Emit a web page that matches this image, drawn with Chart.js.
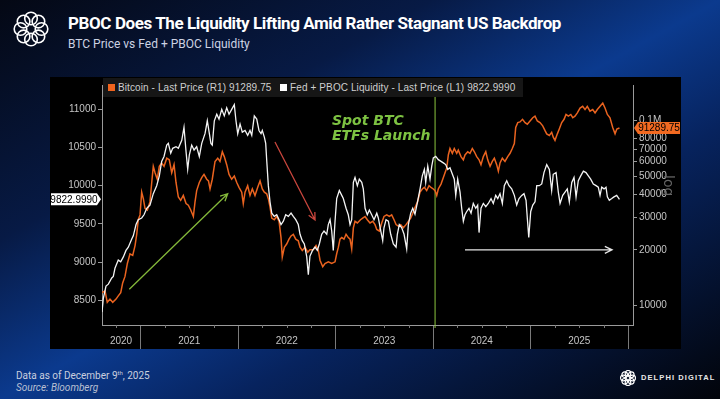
<!DOCTYPE html>
<html>
<head>
<meta charset="utf-8">
<script src="https://cdn.jsdelivr.net/npm/chart.js@4.4.1/dist/chart.umd.min.js"></script>
<style>
  html, body { margin: 0; padding: 0; }
  body {
    width: 720px; height: 399px; overflow: hidden; position: relative;
    background: linear-gradient(to bottom right, #040814 0%, #071a45 30%, #0b3a8e 50%, #07235e 66%, #02040a 100%);
    font-family: Roboto, "Liberation Sans", sans-serif;
  }
  .abs { position: absolute; white-space: nowrap; }
  #title { left: 68px; top: 13px; font-size: 17px; font-weight: 700; color: #fff; letter-spacing: -0.4px; }
  #subtitle { left: 68px; top: 37px; font-size: 12px; color: #cdd3e3; }
  #box { left: 50px; top: 77px; width: 631px; height: 272px; background: #000; }
  #legend { left: 53px; top: 1px; width: 420px; height: 19px; background: #161616; color: #cfcfcf;
    font: 10px "Liberation Sans", sans-serif; line-height: 19px; padding-left: 5px; box-sizing: border-box; letter-spacing: 0.1px; }
  #legend i { display: inline-block; width: 7px; height: 7px; margin-right: 3px; vertical-align: 0px; }
  #etf { left: 282px; top: 36px; color: #7dc242; font: italic bold 14px "DejaVu Sans", sans-serif; line-height: 15px; }
  #logtxt { left: 611px; top: 98px; color: #666; font: 14px "DejaVu Sans", sans-serif; writing-mode: vertical-rl; }
  #foot1 { left: 16px; top: 369px; font-size: 10px; color: #c9cfdf; }
  #foot1 sup { font-size: 6px; }
  #foot2 { left: 16px; top: 382px; font-size: 10px; color: #b9c0d3; font-style: italic; }
  #brand { left: 641px; top: 373px; font: bold 7.5px "Liberation Sans", sans-serif; letter-spacing: 1.1px; color: #e8e8e8; }
</style>
</head>
<body>
<svg class="abs" style="left:13px;top:11px" width="36" height="36" viewBox="0 0 36 36" id="logo"></svg>
<div class="abs" id="title">PBOC Does The Liquidity Lifting Amid Rather Stagnant US Backdrop</div>
<div class="abs" id="subtitle">BTC Price vs Fed + PBOC Liquidity</div>

<div class="abs" id="box">
  <canvas id="chart" width="631" height="272"></canvas>
  <div class="abs" id="legend"></div>
  <div class="abs" id="etf">Spot BTC<br>ETFs Launch</div>
  <div class="abs" id="logtxt">log</div>
</div>

<div class="abs" id="foot1">Data as of December 9<sup>th</sup>, 2025</div>
<div class="abs" id="foot2">Source: Bloomberg</div>
<svg class="abs" style="left:620px;top:370px" width="16" height="16" viewBox="0 0 36 36" id="logo2"></svg>
<div class="abs" id="brand">DELPHI DIGITAL</div>

<script>
// Fed + PBOC liquidity (left axis), decimal years
const liqDates = [
  2020.605, 2020.618, 2020.646, 2020.670, 2020.705, 2020.721, 2020.738, 2020.772, 2020.797, 2020.824,
  2020.851, 2020.875, 2020.910, 2020.926, 2020.954, 2020.977, 2021.012, 2021.036, 2021.064, 2021.097,
  2021.131, 2021.166, 2021.193, 2021.217, 2021.241, 2021.269, 2021.285, 2021.310, 2021.330, 2021.364,
  2021.388, 2021.423, 2021.446, 2021.467, 2021.484, 2021.501, 2021.525, 2021.549, 2021.576, 2021.603,
  2021.628, 2021.662, 2021.685, 2021.706, 2021.722, 2021.736, 2021.757, 2021.782, 2021.805, 2021.833,
  2021.859, 2021.884, 2021.908, 2021.935, 2021.962, 2021.979, 2021.997, 2022.021, 2022.044, 2022.072,
  2022.099, 2022.123, 2022.141, 2022.167, 2022.192, 2022.215, 2022.236, 2022.249, 2022.270, 2022.284,
  2022.294, 2022.311, 2022.328, 2022.346, 2022.372, 2022.397, 2022.421, 2022.441, 2022.465, 2022.489,
  2022.516, 2022.544, 2022.567, 2022.592, 2022.618, 2022.636, 2022.659, 2022.680, 2022.705, 2022.721,
  2022.738, 2022.764, 2022.790, 2022.813, 2022.834, 2022.858, 2022.882, 2022.910, 2022.926, 2022.944,
  2022.961, 2022.977, 2022.995, 2023.012, 2023.039, 2023.064, 2023.080, 2023.108, 2023.131, 2023.149,
  2023.166, 2023.183, 2023.200, 2023.224, 2023.244, 2023.269, 2023.285, 2023.303, 2023.326, 2023.347,
  2023.371, 2023.395, 2023.423, 2023.439, 2023.464, 2023.484, 2023.497, 2023.518, 2023.542, 2023.566,
  2023.593, 2023.621, 2023.634, 2023.654, 2023.679, 2023.703, 2023.730, 2023.747, 2023.771, 2023.792,
  2023.815, 2023.841, 2023.867, 2023.890, 2023.911, 2023.925, 2023.946, 2023.969, 2023.987, 2024.003,
  2024.028, 2024.054, 2024.082, 2024.106, 2024.130, 2024.151, 2024.174, 2024.192, 2024.218, 2024.233,
  2024.253, 2024.277, 2024.294, 2024.311, 2024.328, 2024.346, 2024.369, 2024.390, 2024.413, 2024.438,
  2024.458, 2024.472, 2024.492, 2024.516, 2024.541, 2024.567, 2024.595, 2024.618, 2024.643, 2024.664,
  2024.687, 2024.711, 2024.731, 2024.756, 2024.779, 2024.807, 2024.834, 2024.858, 2024.882, 2024.910,
  2024.933, 2024.954, 2024.967, 2024.982, 2025.002, 2025.023, 2025.046, 2025.064, 2025.090, 2025.115,
  2025.138, 2025.166, 2025.193, 2025.217, 2025.233, 2025.262, 2025.285, 2025.303, 2025.330, 2025.354,
  2025.377, 2025.398, 2025.423, 2025.446, 2025.467, 2025.490, 2025.515, 2025.542, 2025.569, 2025.593,
  2025.617, 2025.644, 2025.672, 2025.695, 2025.713, 2025.730, 2025.754, 2025.774, 2025.788, 2025.808,
  2025.833, 2025.856, 2025.884, 2025.912
];
const liqValues = [
  8347, 8522, 8687, 8712, 8793, 8814, 8920, 9027, 9005, 9069,
  9154, 9196, 9302, 9345, 9492, 9556, 9578, 9620, 9705, 9747,
  9896, 10001, 10129, 10319, 10383, 10532, 10554, 10426, 10490, 10510,
  10490, 10595, 10765, 10447, 10215, 10405, 10532, 10468, 10510, 10383,
  10554, 10685, 10850, 10681, 10554, 10532, 10850, 10935, 10872, 10999,
  10914, 11019, 10935, 10999, 11062, 10850, 10681, 10808, 10701, 10723,
  10659, 10723, 10659, 10914, 10872, 10723, 10681, 10723, 10637, 10554,
  10341, 10001, 9790, 9641, 9599, 9620, 9556, 9492, 9536, 9620,
  9599, 9641, 9599, 9556, 9492, 9365, 9281, 9238, 9069, 8836,
  9080, 9154, 9196, 9154, 9238, 9365, 9408, 9365, 9492, 9556,
  9408, 9154, 9536, 9832, 9938, 9874, 9832, 9705, 9620, 9492,
  9556, 10044, 10108, 10001, 10086, 10044, 9959, 9705, 9620, 9683,
  9620, 9556, 9641, 9578, 9408, 9281, 9450, 9556, 9536, 9365,
  9238, 9196, 9365, 9492, 9450, 9365, 9174, 9492, 9641, 9705,
  9628, 9790, 9959, 10129, 10214, 10044, 10256, 10086, 10256, 10363,
  10383, 10341, 10319, 10299, 10277, 10214, 10235, 10172, 10086, 9874,
  10086, 9917, 9705, 9536, 9620, 9663, 9705, 9641, 9768, 9705,
  9747, 9387, 9705, 9768, 9726, 9768, 9832, 9768, 9874, 9832,
  9896, 9768, 10001, 10065, 10001, 9959, 9874, 9747, 9832, 9874,
  9896, 9810, 9578, 9323, 9663, 9747, 9790, 10001, 10001, 10023,
  10172, 10277, 10214, 9938, 10150, 10172, 9917, 9768, 9874, 9917,
  9959, 9790, 10044, 10108, 9854, 10065, 10129, 10192, 10172, 10129,
  10086, 10023, 10001, 9981, 9874, 9981, 9959, 9981, 9854, 9810,
  9832, 9854, 9874, 9822.999
];

// Bitcoin last price (right axis, log)
const btcDates = [
  2020.605, 2020.636, 2020.659, 2020.687, 2020.715, 2020.749, 2020.772, 2020.797, 2020.817, 2020.841,
  2020.865, 2020.892, 2020.920, 2020.944, 2020.961, 2020.977, 2020.995, 2021.012, 2021.029, 2021.046,
  2021.070, 2021.097, 2021.115, 2021.131, 2021.149, 2021.172, 2021.193, 2021.217, 2021.241, 2021.269,
  2021.295, 2021.320, 2021.344, 2021.364, 2021.388, 2021.412, 2021.439, 2021.467, 2021.490, 2021.515,
  2021.542, 2021.559, 2021.576, 2021.603, 2021.628, 2021.651, 2021.679, 2021.697, 2021.713, 2021.736,
  2021.764, 2021.792, 2021.815, 2021.839, 2021.859, 2021.884, 2021.908, 2021.935, 2021.962, 2021.987,
  2022.010, 2022.038, 2022.054, 2022.072, 2022.099, 2022.123, 2022.147, 2022.174, 2022.202, 2022.226,
  2022.249, 2022.270, 2022.294, 2022.311, 2022.328, 2022.346, 2022.372, 2022.397, 2022.421, 2022.441,
  2022.454, 2022.475, 2022.499, 2022.523, 2022.544, 2022.567, 2022.592, 2022.618, 2022.636, 2022.659,
  2022.687, 2022.715, 2022.738, 2022.772, 2022.800, 2022.824, 2022.841, 2022.869, 2022.892, 2022.926,
  2022.961, 2022.995, 2023.012, 2023.029, 2023.046, 2023.064, 2023.087, 2023.108, 2023.131, 2023.149,
  2023.166, 2023.183, 2023.200, 2023.224, 2023.256, 2023.279, 2023.303, 2023.326, 2023.354, 2023.382,
  2023.405, 2023.423, 2023.449, 2023.474, 2023.497, 2023.525, 2023.552, 2023.576, 2023.600, 2023.621,
  2023.644, 2023.669, 2023.695, 2023.723, 2023.747, 2023.771, 2023.792, 2023.815, 2023.841, 2023.867,
  2023.890, 2023.911, 2023.935, 2023.959, 2023.979, 2024.003, 2024.021, 2024.038, 2024.054, 2024.082,
  2024.106, 2024.123, 2024.141, 2024.157, 2024.174, 2024.198, 2024.218, 2024.243, 2024.259, 2024.287,
  2024.311, 2024.328, 2024.356, 2024.379, 2024.403, 2024.424, 2024.448, 2024.472, 2024.492, 2024.516,
  2024.541, 2024.561, 2024.585, 2024.608, 2024.629, 2024.653, 2024.670, 2024.687, 2024.711, 2024.738,
  2024.766, 2024.790, 2024.813, 2024.834, 2024.848, 2024.869, 2024.892, 2024.918, 2024.944, 2024.967,
  2024.995, 2025.023, 2025.046, 2025.070, 2025.097, 2025.125, 2025.149, 2025.166, 2025.193, 2025.217,
  2025.233, 2025.251, 2025.275, 2025.295, 2025.320, 2025.344, 2025.364, 2025.388, 2025.413, 2025.433,
  2025.456, 2025.480, 2025.508, 2025.535, 2025.559, 2025.582, 2025.610, 2025.638, 2025.662, 2025.685,
  2025.713, 2025.741, 2025.764, 2025.788, 2025.815, 2025.843, 2025.867, 2025.885, 2025.912
];
const btcValues = [
  11750, 11990, 10410, 10840, 10410, 10840, 11280, 11750, 13260, 14380,
  16890, 19060, 18690, 21100, 24280, 29110, 30930, 41050, 37840, 33540,
  32860, 36370, 46320, 56620, 52280, 48220, 56620, 59000, 56620, 62690,
  61410, 52280, 57810, 46320, 38640, 37070, 39390, 35630, 34900, 32860,
  30330, 36370, 41840, 46320, 49220, 51220, 48220, 47240, 42720, 48220,
  60160, 62690, 60160, 67880, 63920, 57810, 51220, 48220, 50180, 46320,
  43610, 41050, 35630, 41050, 44460, 39390, 42720, 39390, 43610, 47240,
  42720, 41050, 40210, 37840, 34220, 29710, 29110, 30330, 28550, 23320,
  18310, 20670, 21510, 22850, 23810, 24280, 22850, 22410, 20670, 19860,
  20670, 19450, 20050, 20050, 21100, 19860, 17590, 16230, 16890, 17240,
  16890, 17240, 19060, 20670, 22850, 23320, 22850, 24280, 23320, 22850,
  20250, 26330, 28550, 27970, 29110, 29710, 30330, 29110, 27970, 28550,
  27400, 25790, 25290, 27970, 30330, 30930, 30330, 30930, 29110, 27400,
  26880, 27400, 26330, 27400, 28550, 29710, 31570, 33940, 36370, 41050,
  42720, 43610, 41840, 44460, 43610, 42720, 41840, 39390, 42720, 45380,
  49220, 52280, 55540, 65250, 70730, 66600, 70730, 66600, 69300, 63920,
  61410, 65250, 67880, 66600, 70730, 67880, 63920, 61410, 57810, 63920,
  67880, 61410, 56620, 60160, 62690, 57810, 53300, 59000, 62690, 60160,
  63920, 66600, 70730, 75160, 91880, 97610, 98440, 101700, 97610, 95740,
  99630, 103700, 105800, 99630, 97610, 93780, 88300, 84840, 83120, 86490,
  81430, 78240, 84840, 90130, 97610, 101700, 108000, 105800, 108000, 103700,
  105800, 110200, 117000, 119500, 114800, 119500, 112500, 114800, 110200, 114800,
  119500, 124400, 117000, 108000, 103700, 91880, 84840, 90130, 91289.75
];

const leftTicks = [8500, 9000, 9500, 10000, 10500, 11000];
const rightTicks = [10000, 20000, 30000, 40000, 50000, 60000, 70000, 80000, 100000];
const yearLabels = ["2020", "2021", "2022", "2023", "2024", "2025"];
const yearLabelAt = [2020.8, 2021.5, 2022.5, 2023.5, 2024.5, 2025.5];
const yearBounds = [2021, 2022, 2023, 2024, 2025, 2026];
const quarterTicks = [
  2020.75, 2021.25, 2021.5, 2021.75, 2022.25, 2022.5, 2022.75, 2023.25, 2023.5, 2023.75,
  2024.25, 2024.5, 2024.75, 2025.25, 2025.5, 2025.75
];
const etfLaunch = 2024.021;

// arrows drawn on the chart, in data units of the bottom + left axes
const arrows = [
  { from: [2020.885, 8645], to: [2021.894, 9896], color: "#84b83a" },
  { from: [2022.379, 10573], to: [2022.790, 9552], color: "#c9463d" },
  { from: [2024.328, 9161], to: [2025.836, 9161], color: "#e6e6e6" },
];

const xMin = 2020.605;
const xMax = 2026.051;
const tickFont = { family: "Liberation Sans", size: 10 };
const tickColor = "#c4c4c4";
const axisColor = "#9a9a9a";

const lastBtc = btcValues[btcValues.length - 1];
const lastLiq = liqValues[liqValues.length - 1];

document.getElementById("legend").innerHTML =
  '<i style="background:#f0641e"></i>Bitcoin - Last Price (R1) ' + lastBtc.toFixed(2) +
  '&nbsp;&nbsp;&nbsp;<i style="background:#fff"></i>Fed + PBOC Liquidity - Last Price (L1) ' + lastLiq.toFixed(4);

// delphi ring logo
function ringLogo(id, stroke) {
  const svg = document.getElementById(id);
  let s = "";
  for (let k = 0; k < 8; k++) {
    const a = (k * Math.PI) / 4;
    s += '<circle cx="' + (18 + 10.5 * Math.cos(a)).toFixed(2) + '" cy="' + (18 + 10.5 * Math.sin(a)).toFixed(2) +
      '" r="6.3" fill="none" stroke="#fff" stroke-width="' + stroke + '"/>';
  }
  svg.innerHTML = s;
}
ringLogo("logo", 1.6);
ringLogo("logo2", 2.6);

function drawArrow(ctx, x1, y1, x2, y2, color) {
  const a = Math.atan2(y2 - y1, x2 - x1);
  const h = 8;
  ctx.strokeStyle = color;
  ctx.lineWidth = 1.3;
  ctx.beginPath();
  ctx.moveTo(x1, y1);
  ctx.lineTo(x2, y2);
  ctx.moveTo(x2 - h * Math.cos(a - 0.45), y2 - h * Math.sin(a - 0.45));
  ctx.lineTo(x2, y2);
  ctx.lineTo(x2 - h * Math.cos(a + 0.45), y2 - h * Math.sin(a + 0.45));
  ctx.stroke();
}

function drawFlag(ctx, x1, x2, y, tipLeft, fill, text) {
  const h = 6;
  ctx.fillStyle = fill;
  ctx.beginPath();
  if (tipLeft) {
    ctx.moveTo(x1, y);
    ctx.lineTo(x1 + 4, y - h);
    ctx.lineTo(x2, y - h);
    ctx.lineTo(x2, y + h);
    ctx.lineTo(x1 + 4, y + h);
  } else {
    ctx.moveTo(x2, y);
    ctx.lineTo(x2 - 4, y - h);
    ctx.lineTo(x1, y - h);
    ctx.lineTo(x1, y + h);
    ctx.lineTo(x2 - 4, y + h);
  }
  ctx.closePath();
  ctx.fill();
  ctx.fillStyle = "#000";
  ctx.font = "10px 'Liberation Sans'";
  ctx.textAlign = "center";
  ctx.textBaseline = "middle";
  ctx.fillText(text, (x1 + x2) / 2 + (tipLeft ? 2 : -2), y + 0.5);
}

const overlay = {
  id: "overlay",
  beforeDatasetsDraw(chart) {
    const { ctx, chartArea, scales } = chart;
    const x = scales.x.getPixelForValue(etfLaunch);
    ctx.save();
    ctx.strokeStyle = "#8cc63f";
    ctx.lineWidth = 1;
    ctx.beginPath();
    ctx.moveTo(x, chartArea.top);
    ctx.lineTo(x, chartArea.bottom + 3);
    ctx.stroke();
    ctx.restore();
  },
  afterDatasetsDraw(chart) {
    const { ctx, scales } = chart;
    ctx.save();
    arrows.forEach((ar) => {
      drawArrow(ctx,
        scales.x.getPixelForValue(ar.from[0]), scales.y.getPixelForValue(ar.from[1]),
        scales.x.getPixelForValue(ar.to[0]), scales.y.getPixelForValue(ar.to[1]), ar.color);
    });
    ctx.restore();
  },
  afterDraw(chart) {
    const { ctx, chartArea, scales, width } = chart;
    ctx.save();
    // small quarter ticks under the bottom axis
    ctx.strokeStyle = "#7a7a7a";
    ctx.lineWidth = 1;
    ctx.beginPath();
    quarterTicks.forEach((q) => {
      const x = Math.round(scales.x.getPixelForValue(q)) + 0.5;
      ctx.moveTo(x, chartArea.bottom);
      ctx.lineTo(x, chartArea.bottom + 3);
    });
    ctx.stroke();
    drawFlag(ctx, 1, chartArea.left - 1, scales.y.getPixelForValue(lastLiq), false, "#ffffff", lastLiq.toFixed(4));
    drawFlag(ctx, chartArea.right + 1, width - 1, scales.y2.getPixelForValue(lastBtc), true, "#f26a21", lastBtc.toFixed(2));
    ctx.restore();
  },
};

new Chart(document.getElementById("chart").getContext("2d"), {
  type: "line",
  data: {
    datasets: [
      {
        label: "Fed + PBOC Liquidity - Last Price (L1)",
        data: liqDates.map((d, i) => ({ x: d, y: liqValues[i] })),
        yAxisID: "y",
        borderColor: "#f4f4f4",
        borderWidth: 1.3,
        pointRadius: 0,
        tension: 0,
        order: 1,
      },
      {
        label: "Bitcoin - Last Price (R1)",
        data: btcDates.map((d, i) => ({ x: d, y: btcValues[i] })),
        yAxisID: "y2",
        borderColor: "#ea631f",
        borderWidth: 1.5,
        pointRadius: 0,
        tension: 0,
        order: 2,
      },
    ],
  },
  options: {
    responsive: false,
    animation: false,
    layout: { padding: { top: 1, left: 0, right: 0, bottom: 0 } },
    plugins: { legend: { display: false }, tooltip: { enabled: false } },
    scales: {
      x: {
        type: "linear",
        position: "bottom",
        min: xMin,
        max: xMax,
        weight: 1,
        grid: { display: false, drawTicks: false },
        border: { display: false },
        afterBuildTicks: (s) => { s.ticks = yearLabelAt.map((v) => ({ value: v })); },
        afterFit: (s) => { s.height = 24; },
        ticks: {
          color: tickColor, font: tickFont, padding: 10, maxRotation: 0, autoSkip: false,
          callback: (v, i) => yearLabels[i],
        },
      },
      xb: {
        type: "linear",
        position: "bottom",
        min: xMin,
        max: xMax,
        weight: 0,
        grid: { drawOnChartArea: false, color: "#7a7a7a", tickLength: 24 },
        border: { display: true, color: axisColor },
        ticks: { display: false },
        afterBuildTicks: (s) => { s.ticks = yearBounds.map((v) => ({ value: v })); },
        afterFit: (s) => { s.height = 0; },
      },
      y: {
        position: "left",
        min: 8178,
        max: 11318,
        grid: { drawOnChartArea: false, color: axisColor, tickLength: 4 },
        border: { color: axisColor },
        afterBuildTicks: (s) => { s.ticks = leftTicks.map((v) => ({ value: v })); },
        afterFit: (s) => { s.width = 52; },
        ticks: { color: tickColor, font: tickFont, padding: 2, callback: (v) => String(v) },
      },
      y2: {
        type: "logarithmic",
        position: "right",
        min: 7851,
        max: 155900,
        grid: { drawOnChartArea: false, color: axisColor, tickLength: 4 },
        border: { color: axisColor },
        afterBuildTicks: (s) => { s.ticks = rightTicks.map((v) => ({ value: v })); },
        afterFit: (s) => { s.width = 48; },
        ticks: {
          color: tickColor, font: tickFont, padding: 2,
          callback: (v) => (v === 100000 ? "0.1M" : String(v)),
        },
      },
    },
  },
  plugins: [overlay],
});
</script>
</body>
</html>
